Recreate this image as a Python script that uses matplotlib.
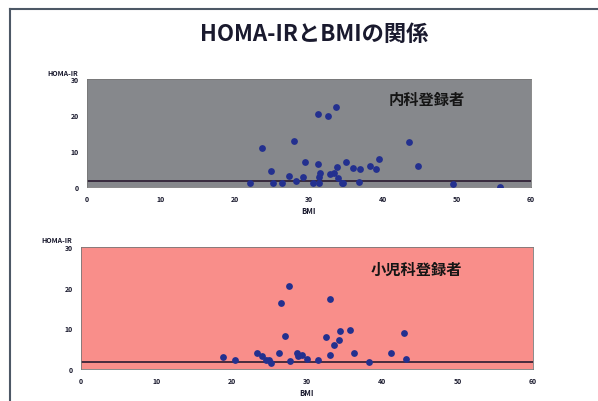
import numpy as np
import matplotlib
matplotlib.use("Agg")
from matplotlib import pyplot as plt
from matplotlib.lines import Line2D

plt.rcParams['font.family'] = ['Noto Sans CJK JP', 'DejaVu Sans']

# 内科登録者 (internal medicine)
bmi_naika = [22.0, 23.6, 24.8, 25.1, 26.3, 27.3, 28.0, 28.2, 29.2, 29.4,
             30.5, 31.2, 31.2, 31.3, 31.4, 31.5, 32.6, 32.8, 33.6, 33.4,
             33.8, 33.9, 34.4, 34.6, 35.0, 36.0, 36.9, 36.7, 38.3, 39.1,
             39.5, 43.5, 44.7, 49.5, 55.8]
homa_naika = [1.2, 10.9, 4.4, 1.2, 1.2, 3.0, 12.9, 1.8, 2.8, 7.0,
              1.0, 20.2, 6.3, 2.8, 1.2, 4.0, 19.8, 3.5, 22.1, 4.0,
              5.6, 2.6, 1.0, 1.2, 6.9, 5.2, 4.9, 1.4, 5.8, 4.9,
              7.8, 12.5, 5.8, 0.7, 0.1]

# 小児科登録者 (pediatrics)
bmi_shoni = [18.9, 20.4, 23.4, 24.0, 24.6, 25.0, 25.2, 26.3, 26.5, 27.1,
             27.6, 27.7, 28.7, 28.8, 29.4, 30.0, 31.5, 32.5, 33.1, 33.1,
             33.6, 34.3, 34.4, 35.7, 36.3, 38.2, 41.2, 42.9, 43.2]
homa_shoni = [3.0, 2.2, 3.9, 3.3, 2.1, 2.2, 1.4, 3.9, 16.2, 8.2,
              20.4, 2.0, 3.9, 3.3, 3.5, 2.4, 2.3, 7.8, 17.3, 3.5,
              5.9, 7.1, 9.3, 9.6, 3.9, 1.8, 3.9, 8.8, 2.5]

cutoff = 1.7
x_ticks = [0, 10, 20, 30, 40, 50, 60]
y_ticks = [0, 10, 20, 30]

fig = plt.figure(figsize=(5.98, 4.02), dpi=100)
fig.patch.set_facecolor('white')

# slide frame
fig.add_artist(Line2D([10/598, 1.0], [1 - 10/402, 1 - 10/402], color='#4d5866', lw=1.5))
fig.add_artist(Line2D([10/598, 10/598], [0, 1 - 10/402], color='#4d5866', lw=1.5))

fig.text(0.525, 1 - 34/402, 'HOMA-IRとBMIの関係', ha='center', va='center',
         fontsize=16, fontweight='bold', color='#1a1a2e')

panels = [
    ([87/598, 1 - 188/402, 444/598, 108/402], bmi_naika, homa_naika, '#86888c', '内科登録者', (0.766, 0.815)),
    ([81/598, 1 - 370/402, 452/598, 122/402], bmi_shoni, homa_shoni, '#f98e8a', '小児科登録者', (0.741, 0.82)),
]

for rect, xs, ys, bg, label, lpos in panels:
    ax = fig.add_axes(rect)
    ax.set_facecolor(bg)
    ax.scatter(xs, ys, s=24, color='#23308f', zorder=3, linewidths=0)
    ax.axhline(cutoff, color='#2a1a30', lw=1.2, zorder=2)
    ax.set_xlim(0, 60)
    ax.set_ylim(0, 30)
    ax.set_xticks(x_ticks)
    ax.set_yticks(y_ticks)
    ax.tick_params(labelsize=5, length=0, pad=6, labelcolor='#1a1a2e')
    for t in ax.get_xticklabels() + ax.get_yticklabels():
        t.set_fontweight('bold')
    for s in ax.spines.values():
        s.set_color('#777777')
        s.set_linewidth(0.6)
    ax.set_xlabel('BMI', fontsize=5.5, fontweight='bold', color='#1a1a2e', labelpad=3)
    ax.text(-0.02, 1.03, 'HOMA-IR', transform=ax.transAxes, ha='right', va='bottom',
            fontsize=5, fontweight='bold', color='#1a1a2e')
    ax.text(lpos[0], lpos[1], label, transform=ax.transAxes, ha='center', va='center',
            fontsize=11, fontweight='bold', color='#151515')

fig.savefig('out.png', dpi=100)
